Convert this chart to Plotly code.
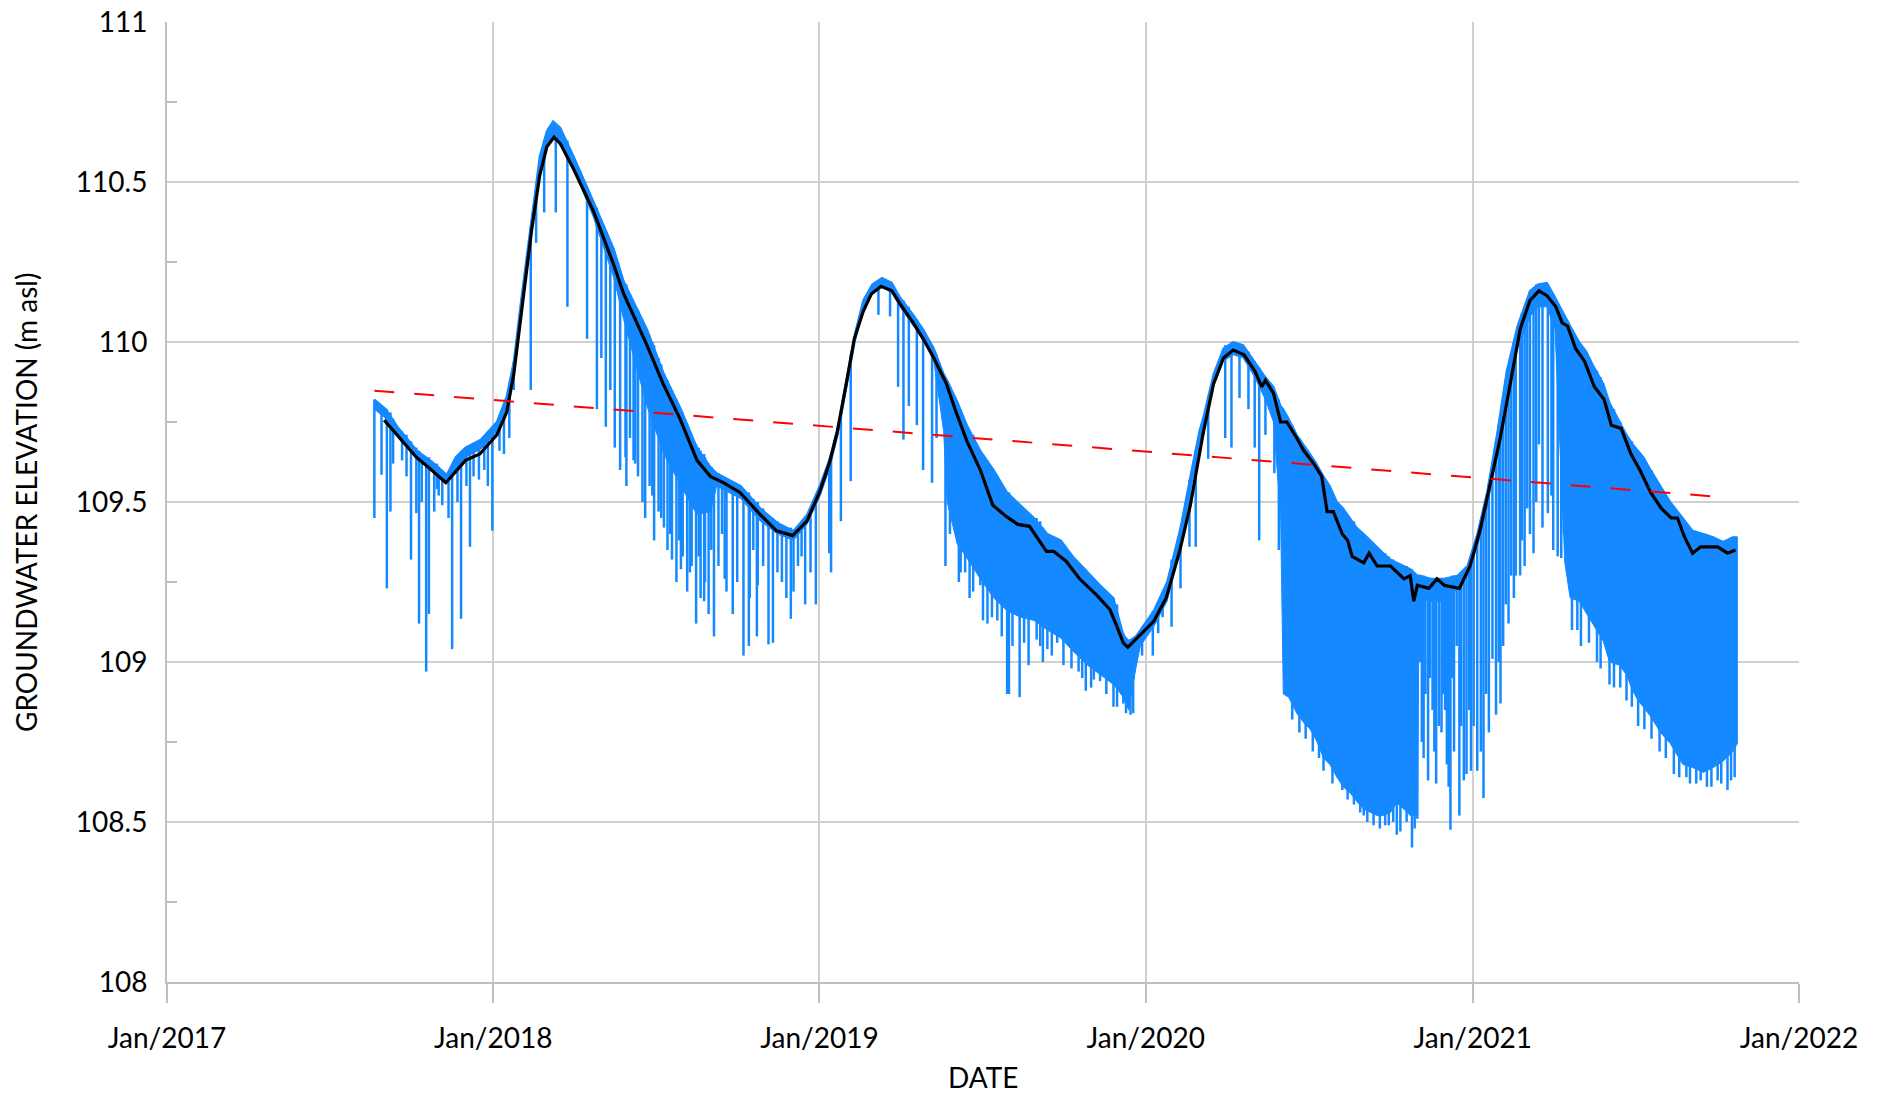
import plotly.graph_objects as go

# ---------------- data ----------------
# upper / lower edge of the continuous blue record (dense part)
band_dates = [
    "2017-08-21", "2017-09-03", "2017-09-16", "2017-10-08", "2017-10-25", "2017-11-10", "2017-11-20",
    "2017-12-01", "2017-12-18", "2018-01-05", "2018-01-16", "2018-01-24", "2018-02-02", "2018-02-13",
    "2018-02-22", "2018-03-02", "2018-03-09", "2018-03-17", "2018-04-01", "2018-04-23", "2018-05-16",
    "2018-05-27", "2018-06-22", "2018-07-11", "2018-07-30", "2018-08-17", "2018-09-01", "2018-09-08",
    "2018-10-05", "2018-10-27", "2018-11-15", "2018-12-03", "2018-12-18", "2019-01-02", "2019-01-13",
    "2019-01-22", "2019-02-01", "2019-02-10", "2019-02-19", "2019-03-01", "2019-03-12", "2019-03-23",
    "2019-04-01", "2019-04-16", "2019-04-27", "2019-05-09", "2019-05-20", "2019-05-24", "2019-06-04",
    "2019-06-15", "2019-06-30", "2019-07-15", "2019-07-30", "2019-08-14", "2019-08-29", "2019-09-13",
    "2019-09-28", "2019-10-13", "2019-10-28", "2019-11-11", "2019-11-26", "2019-12-07", "2019-12-13",
    "2019-12-21", "2019-12-26", "2020-01-10", "2020-01-25", "2020-02-09", "2020-02-20", "2020-03-01",
    "2020-03-06", "2020-03-17", "2020-03-28", "2020-04-08", "2020-04-19", "2020-05-02", "2020-05-14",
    "2020-05-23", "2020-05-31", "2020-06-03", "2020-06-09", "2020-06-18", "2020-06-26", "2020-07-03",
    "2020-07-10", "2020-07-18", "2020-07-25", "2020-08-02", "2020-08-09", "2020-08-17", "2020-08-24",
    "2020-09-01", "2020-09-08", "2020-09-16", "2020-09-23", "2020-10-01", "2020-10-08", "2020-10-16",
    "2020-10-23", "2020-10-31", "2020-11-02", "2020-11-15", "2020-11-30", "2020-12-15", "2020-12-26",
    "2021-01-06", "2021-01-17", "2021-01-28", "2021-02-08", "2021-02-20", "2021-03-06", "2021-03-15",
    "2021-03-25", "2021-04-03", "2021-04-14", "2021-04-20", "2021-04-30", "2021-05-08", "2021-05-15",
    "2021-05-27", "2021-06-03", "2021-06-14", "2021-06-22", "2021-06-29", "2021-07-05", "2021-07-11",
    "2021-07-19", "2021-07-30", "2021-08-10", "2021-08-24", "2021-09-04", "2021-09-16", "2021-09-27",
    "2021-10-08", "2021-10-19", "2021-10-24",
]
band_top = [
    109.82, 109.79, 109.735, 109.66, 109.625, 109.585, 109.64,
    109.67, 109.695, 109.75, 109.83, 109.94, 110.15, 110.38,
    110.58, 110.66, 110.69, 110.67, 110.58, 110.44, 110.29,
    110.19, 110.04, 109.90, 109.79, 109.67, 109.61, 109.59,
    109.55, 109.48, 109.435, 109.41, 109.46, 109.555, 109.64,
    109.74, 109.89, 110.03, 110.13, 110.18, 110.20, 110.185,
    110.14, 110.085, 110.04, 109.98, 109.90, 109.88, 109.815,
    109.74, 109.66, 109.60, 109.53, 109.49, 109.45, 109.40,
    109.38, 109.325, 109.28, 109.24, 109.20, 109.085, 109.065,
    109.08, 109.10, 109.16, 109.25, 109.42, 109.58, 109.72,
    109.77, 109.90, 109.98, 110.00, 109.99, 109.94, 109.89,
    109.86, 109.80, 109.79, 109.76, 109.71, 109.68, 109.65,
    109.62, 109.58, 109.55, 109.50, 109.48, 109.45, 109.42,
    109.40, 109.38, 109.36, 109.34, 109.32, 109.31, 109.30,
    109.29, 109.27, 109.27, 109.26, 109.26, 109.27, 109.30,
    109.40, 109.53, 109.71, 109.91, 110.05, 110.16, 110.18,
    110.185, 110.14, 110.08, 110.05, 110.00, 109.97, 109.93,
    109.87, 109.81, 109.75, 109.71, 109.68, 109.66, 109.64,
    109.60, 109.55, 109.50, 109.45, 109.41, 109.40, 109.39,
    109.375, 109.39, 109.39,
]
band_low = [
    109.79, 109.76, 109.71, 109.63, 109.60, 109.56, 109.60,
    109.64, 109.665, 109.72, 109.80, 109.91, 110.11, 110.34,
    110.53, 110.61, 110.64, 110.62, 110.54, 110.39, 110.20,
    110.07, 109.80, 109.65, 109.55, 109.46, 109.47, 109.55,
    109.51, 109.44, 109.40, 109.38, 109.43, 109.52, 109.61,
    109.71, 109.86, 110.00, 110.10, 110.15, 110.17, 110.155,
    110.11, 110.05, 110.01, 109.94, 109.72, 109.50, 109.37,
    109.325, 109.26, 109.20, 109.16, 109.14, 109.13, 109.10,
    109.075, 109.03, 108.99, 108.96, 108.93, 108.89, 108.85,
    108.98, 109.05, 109.11, 109.19, 109.36, 109.53, 109.68,
    109.73, 109.86, 109.94, 109.96, 109.95, 109.89, 109.82,
    109.75, 109.46, 108.90, 108.89, 108.84, 108.81, 108.79,
    108.755, 108.70, 108.68, 108.64, 108.61, 108.59, 108.565,
    108.54, 108.53, 108.52, 108.52, 108.53, 108.56, 108.54,
    108.52, 108.52, 109.20, 109.19, 109.19, 109.23, 109.27,
    109.36, 109.48, 109.65, 109.84, 109.98, 110.08, 110.11,
    110.11, 110.04, 109.31, 109.20, 109.19, 109.15, 109.12,
    109.065, 109.00, 108.99, 108.96, 108.91, 108.88, 108.86,
    108.83, 108.78, 108.745, 108.68, 108.67, 108.655, 108.67,
    108.69, 108.72, 108.745,
]

# individual drawdown spikes: date, level before the dip, lowest level of the dip
spike_dates = [
    "2017-08-21", "2017-08-29", "2017-09-04", "2017-09-08", "2017-09-21", "2017-10-01", "2017-10-07",
    "2017-10-10", "2017-10-18", "2017-10-21", "2017-10-30", "2017-11-05", "2017-11-16", "2017-11-26",
    "2017-12-06", "2017-12-16", "2017-12-22", "2017-12-31", "2018-01-13", "2018-01-24", "2018-02-12",
    "2018-02-18", "2018-02-27", "2018-03-12", "2018-03-25", "2018-04-16", "2018-04-27", "2018-05-02",
    "2018-05-07", "2018-05-12", "2018-05-17", "2018-05-23", "2018-05-30", "2018-06-03", "2018-06-07",
    "2018-06-12", "2018-06-17", "2018-06-20", "2018-06-25", "2018-06-30", "2018-07-05", "2018-07-11",
    "2018-07-15", "2018-07-20", "2018-07-25", "2018-07-30", "2018-08-01", "2018-08-06", "2018-08-11",
    "2018-08-16", "2018-08-21", "2018-08-26", "2018-08-30", "2018-09-05", "2018-09-10", "2018-09-19",
    "2018-09-26", "2018-10-01", "2018-10-08", "2018-10-15", "2018-10-23", "2018-10-30", "2018-11-05",
    "2018-11-10", "2018-11-20", "2018-11-30", "2018-12-08", "2018-12-16", "2018-12-22", "2018-12-28",
    "2019-01-12", "2019-01-14", "2019-01-25", "2019-02-05", "2019-03-08", "2019-03-21", "2019-03-30",
    "2019-04-05", "2019-04-11", "2019-04-20", "2019-04-27", "2019-05-07", "2019-05-12", "2019-05-22",
    "2019-05-27", "2019-06-08", "2019-06-13", "2019-06-22", "2019-06-30", "2019-07-13", "2019-07-19",
    "2019-08-01", "2019-08-13", "2019-08-23", "2019-09-01", "2019-09-05", "2019-09-13", "2019-09-24",
    "2019-10-05", "2019-10-18", "2019-10-26", "2019-11-04", "2019-11-11", "2019-11-26", "2019-12-07",
    "2019-12-15", "2019-12-28", "2020-01-09", "2020-01-15", "2020-01-20", "2020-01-30", "2020-02-09",
    "2020-02-19", "2020-02-26", "2020-03-11", "2020-03-30", "2020-04-06", "2020-04-15", "2020-04-25",
    "2020-05-02", "2020-05-07", "2020-05-14", "2020-05-24", "2020-05-29", "2020-06-21", "2020-07-18",
    "2020-08-08", "2020-08-21", "2020-09-01", "2020-09-25", "2020-10-08", "2020-10-25", "2020-10-31",
    "2020-11-05", "2020-11-09", "2020-11-12", "2020-11-17", "2020-11-21", "2020-11-24", "2020-11-27",
    "2020-12-01", "2020-12-05", "2020-12-07", "2020-12-11", "2020-12-14", "2020-12-17", "2020-12-22",
    "2020-12-25", "2020-12-30", "2021-01-06", "2021-01-13", "2021-01-23", "2021-01-27", "2021-02-01",
    "2021-02-07", "2021-02-13", "2021-02-18", "2021-02-23", "2021-02-25", "2021-03-03", "2021-03-10",
    "2021-03-16", "2021-03-26", "2021-04-01", "2021-04-06", "2021-04-10", "2021-04-16", "2021-04-22",
    "2021-05-02", "2021-05-20", "2021-06-08", "2021-06-28", "2021-07-12", "2021-07-29", "2021-08-14",
    "2021-08-28", "2021-09-08", "2021-09-20", "2021-10-02", "2021-10-13", "2021-10-21",
]
spike_top = [
    109.82, 109.80, 109.79, 109.78, 109.72, 109.69, 109.67,
    109.66, 109.64, 109.64, 109.62, 109.60, 109.61, 109.66,
    109.67, 109.69, 109.70, 109.73, 109.80, 109.94, 110.36,
    110.47, 110.63, 110.68, 110.63, 110.48, 110.42, 110.38,
    110.35, 110.31, 110.28, 110.22, 110.18, 110.15, 110.12,
    110.10, 110.07, 110.05, 110.02, 109.99, 109.95, 109.90,
    109.88, 109.85, 109.82, 109.79, 109.78, 109.74, 109.71,
    109.68, 109.66, 109.64, 109.62, 109.60, 109.59, 109.57,
    109.56, 109.55, 109.54, 109.52, 109.50, 109.48, 109.46,
    109.45, 109.43, 109.42, 109.42, 109.45, 109.48, 109.52,
    109.63, 109.65, 109.77, 109.96, 110.19, 110.19, 110.15,
    110.13, 110.11, 110.07, 110.04, 109.99, 109.96, 109.89,
    109.86, 109.79, 109.75, 109.71, 109.66, 109.60, 109.58,
    109.53, 109.49, 109.46, 109.45, 109.44, 109.40, 109.38,
    109.35, 109.31, 109.29, 109.26, 109.24, 109.20, 109.09,
    109.07, 109.11, 109.16, 109.19, 109.22, 109.32, 109.42,
    109.57, 109.66, 109.83, 109.99, 110.00, 109.99, 109.97,
    109.94, 109.92, 109.89, 109.85, 109.82, 109.70, 109.58,
    109.48, 109.44, 109.40, 109.34, 109.31, 109.29, 109.27,
    109.27, 109.26, 109.26, 109.26, 109.26, 109.26, 109.26,
    109.26, 109.26, 109.26, 109.27, 109.27, 109.27, 109.28,
    109.29, 109.31, 109.40, 109.48, 109.62, 109.69, 109.77,
    109.88, 109.96, 110.02, 110.07, 110.09, 110.13, 110.17,
    110.18, 110.18, 110.15, 110.12, 110.10, 110.07, 110.04,
    109.99, 109.91, 109.79, 109.69, 109.63, 109.55, 109.48,
    109.43, 109.41, 109.40, 109.38, 109.38, 109.39,
]
spike_low = [
    109.45, 109.585, 109.23, 109.47, 109.63, 109.32, 109.465,
    109.12, 108.97, 109.15, 109.54, 109.49, 109.04, 109.135,
    109.36, 109.57, 109.60, 109.41, 109.65, 109.85, 109.85,
    110.31, 110.405, 110.405, 110.11, 110.01, 109.79, 109.95,
    109.735, 109.85, 109.67, 109.60, 109.55, 109.70, 109.63,
    109.58, 109.50, 109.45, 109.55, 109.38, 109.47, 109.42,
    109.35, 109.32, 109.25, 109.29, 109.33, 109.22, 109.30,
    109.12, 109.20, 109.25, 109.15, 109.08, 109.30, 109.22,
    109.15, 109.25, 109.02, 109.20, 109.08, 109.30, 109.055,
    109.06, 109.25, 109.135, 109.30, 109.18, 109.28, 109.18,
    109.34, 109.28, 109.44, 109.565, 110.085, 110.08, 109.86,
    109.695, 109.80, 109.74, 109.60, 109.56, 109.70, 109.30,
    109.40, 109.28, 109.28, 109.22, 109.24, 109.14, 109.13,
    108.90, 108.89, 108.99, 109.07, 109.05, 109.04, 109.06,
    109.065, 108.97, 108.91, 108.945, 108.94, 108.86, 108.87,
    108.835, 109.02, 109.02, 109.09, 109.14, 109.11, 109.23,
    109.36, 109.36, 109.635, 109.70, 109.67, 109.825, 109.79,
    109.67, 109.38, 109.71, 109.59, 109.35, 108.78, 108.66,
    108.60, 108.555, 108.52, 108.49, 108.46, 108.42, 108.51,
    108.75, 108.90, 108.63, 108.85, 108.62, 108.80, 108.78,
    108.85, 108.61, 108.476, 108.72, 109.05, 108.52, 108.63,
    108.65, 108.66, 108.66, 108.575, 109.01, 108.835, 108.87,
    109.18, 109.27, 109.27, 109.27, 109.38, 109.48, 109.34,
    109.68, 109.465, 109.35, 109.33, 109.325, 109.30, 109.10,
    109.05, 109.00, 108.92, 108.86, 108.79, 108.72, 108.65,
    108.64, 108.62, 108.61, 108.63, 108.60, 108.64,
]

# smaller dips that roughen the lower edge of the record
minor_dates = [
    "2017-09-11", "2017-09-26", "2017-10-13", "2017-10-27", "2017-11-01", "2017-11-12", "2017-11-22",
    "2017-12-02", "2017-12-10", "2017-12-26", "2018-01-08", "2018-01-19", "2018-05-29", "2018-06-09",
    "2018-06-28", "2018-07-08", "2018-07-18", "2018-07-28", "2018-08-09", "2018-08-19", "2018-08-25",
    "2018-09-02", "2018-09-14", "2018-09-17", "2018-10-14", "2018-10-19", "2018-10-24", "2018-11-15",
    "2018-11-25", "2018-12-03", "2018-12-12", "2019-06-06", "2019-06-18", "2019-07-03", "2019-07-08",
    "2019-07-24", "2019-07-30", "2019-08-05", "2019-08-18", "2019-09-08", "2019-09-18", "2019-10-01",
    "2019-10-10", "2019-10-22", "2019-11-01", "2019-11-18", "2019-11-30", "2019-12-10", "2019-12-18",
    "2020-06-13", "2020-06-28", "2020-07-06", "2020-07-13", "2020-07-28", "2020-08-14", "2020-08-28",
    "2020-09-05", "2020-09-12", "2020-09-19", "2020-09-29", "2020-10-04", "2020-10-12", "2020-10-19",
    "2020-10-28", "2020-11-03", "2020-11-07", "2020-11-14", "2020-11-19", "2020-11-29", "2020-12-03",
    "2020-12-09", "2020-12-19", "2020-12-28", "2021-01-02", "2021-01-10", "2021-01-16", "2021-01-19",
    "2021-01-30", "2021-02-04", "2021-02-10", "2021-02-16", "2021-02-28", "2021-03-06", "2021-03-13",
    "2021-03-20", "2021-03-30", "2021-04-13", "2021-04-28", "2021-05-11", "2021-05-24", "2021-06-03",
    "2021-06-15", "2021-06-22", "2021-07-05", "2021-07-20", "2021-08-05", "2021-08-20", "2021-09-01",
    "2021-09-13", "2021-09-25", "2021-10-06", "2021-10-17",
]
minor_top = [
    109.76, 109.71, 109.65, 109.62, 109.61, 109.59, 109.64,
    109.67, 109.68, 109.71, 109.77, 109.87, 110.17, 110.11,
    110.00, 109.93, 109.86, 109.80, 109.72, 109.67, 109.65,
    109.61, 109.58, 109.57, 109.53, 109.51, 109.50, 109.44,
    109.42, 109.41, 109.43, 109.78, 109.72, 109.65, 109.63,
    109.55, 109.53, 109.51, 109.48, 109.42, 109.39, 109.36,
    109.33, 109.30, 109.27, 109.22, 109.18, 109.07, 109.07,
    109.74, 109.67, 109.63, 109.60, 109.52, 109.46, 109.41,
    109.39, 109.37, 109.35, 109.33, 109.32, 109.30, 109.30,
    109.28, 109.27, 109.27, 109.26, 109.26, 109.26, 109.26,
    109.27, 109.27, 109.30, 109.34, 109.44, 109.52, 109.56,
    109.74, 109.82, 109.92, 110.00, 110.11, 110.16, 110.18,
    110.18, 110.16, 110.08, 110.00, 109.95, 109.89, 109.81,
    109.75, 109.71, 109.66, 109.60, 109.52, 109.46, 109.42,
    109.40, 109.39, 109.38, 109.39,
]
minor_low = [
    109.62, 109.58, 109.50, 109.47, 109.52, 109.45, 109.50,
    109.55, 109.58, 109.55, 109.66, 109.70, 109.64, 109.62,
    109.52, 109.45, 109.40, 109.38, 109.28, 109.33, 109.19,
    109.35, 109.40, 109.26, 109.05, 109.35, 109.24, 109.28,
    109.20, 109.22, 109.33, 109.25, 109.20, 109.13, 109.12,
    109.08, 108.90, 109.05, 109.06, 109.00, 109.02, 108.99,
    108.98, 108.95, 108.92, 108.90, 108.86, 108.84, 108.84,
    108.82, 108.76, 108.72, 108.70, 108.62, 108.57, 108.53,
    108.50, 108.49, 108.48, 108.49, 108.50, 108.47, 108.50,
    108.48, 109.00, 108.70, 108.95, 108.72, 108.90, 108.68,
    108.95, 108.80, 108.85, 108.80, 108.72, 108.90, 108.78,
    109.00, 109.05, 109.12, 109.20, 109.30, 109.40, 109.50,
    109.42, 109.52, 109.40, 109.10, 109.06, 108.98, 108.93,
    108.92, 108.88, 108.80, 108.76, 108.70, 108.64, 108.62,
    108.63, 108.61, 108.62, 108.63,
]

# smoothed (black) series
smooth_dates = [
    "2017-09-01", "2017-09-15", "2017-10-07", "2017-10-24", "2017-11-09", "2017-12-01", "2017-12-17",
    "2018-01-05", "2018-01-16", "2018-01-24", "2018-02-02", "2018-02-13", "2018-02-22", "2018-03-02",
    "2018-03-10", "2018-03-17", "2018-04-01", "2018-04-23", "2018-05-16", "2018-05-27", "2018-06-22",
    "2018-07-10", "2018-07-29", "2018-08-17", "2018-09-01", "2018-09-16", "2018-10-04", "2018-10-27",
    "2018-11-14", "2018-12-02", "2018-12-18", "2019-01-01", "2019-01-12", "2019-01-21", "2019-01-31",
    "2019-02-09", "2019-02-19", "2019-02-28", "2019-03-11", "2019-03-23", "2019-04-01", "2019-04-16",
    "2019-04-27", "2019-05-09", "2019-05-23", "2019-06-03", "2019-06-15", "2019-06-30", "2019-07-14",
    "2019-07-29", "2019-08-11", "2019-08-24", "2019-09-12", "2019-09-20", "2019-10-04", "2019-10-19",
    "2019-11-07", "2019-11-22", "2019-11-29", "2019-12-07", "2019-12-12", "2019-12-26", "2020-01-10",
    "2020-01-24", "2020-02-08", "2020-02-20", "2020-03-05", "2020-03-17", "2020-03-28", "2020-04-08",
    "2020-04-20", "2020-05-02", "2020-05-10", "2020-05-14", "2020-05-23", "2020-05-31", "2020-06-07",
    "2020-06-18", "2020-06-26", "2020-07-07", "2020-07-16", "2020-07-22", "2020-07-29", "2020-08-08",
    "2020-08-14", "2020-08-19", "2020-09-01", "2020-09-07", "2020-09-16", "2020-10-01", "2020-10-16",
    "2020-10-23", "2020-10-27", "2020-10-31", "2020-11-13", "2020-11-22", "2020-11-30", "2020-12-17",
    "2020-12-22", "2020-12-29", "2021-01-09", "2021-01-20", "2021-01-31", "2021-02-12", "2021-02-23",
    "2021-03-06", "2021-03-16", "2021-03-25", "2021-04-04", "2021-04-11", "2021-04-17", "2021-04-26",
    "2021-05-06", "2021-05-17", "2021-05-28", "2021-06-05", "2021-06-16", "2021-06-27", "2021-07-07",
    "2021-07-19", "2021-07-31", "2021-08-11", "2021-08-18", "2021-08-26", "2021-09-04", "2021-09-13",
    "2021-09-22", "2021-10-02", "2021-10-13", "2021-10-22",
]
smooth_values = [
    109.756, 109.71, 109.64, 109.60, 109.56, 109.63, 109.65,
    109.71, 109.78, 109.90, 110.105, 110.35, 110.52, 110.61,
    110.64, 110.62, 110.54, 110.41, 110.24, 110.15, 109.99,
    109.87, 109.76, 109.63, 109.58, 109.56, 109.53, 109.46,
    109.41, 109.395, 109.44, 109.53, 109.62, 109.72, 109.87,
    110.01, 110.096, 110.15, 110.174, 110.16, 110.12, 110.06,
    110.01, 109.95, 109.87, 109.78, 109.69, 109.60, 109.49,
    109.455, 109.43, 109.424, 109.346, 109.346, 109.315, 109.26,
    109.21, 109.164, 109.117, 109.06, 109.046, 109.085, 109.127,
    109.20, 109.346, 109.49, 109.71, 109.87, 109.95, 109.975,
    109.96, 109.91, 109.86, 109.88, 109.84, 109.75, 109.75,
    109.70, 109.66, 109.62, 109.58, 109.47, 109.47, 109.40,
    109.38, 109.33, 109.31, 109.34, 109.30, 109.30, 109.26,
    109.27, 109.19, 109.24, 109.23, 109.26, 109.24, 109.23,
    109.26, 109.30, 109.41, 109.55, 109.69, 109.87, 110.04,
    110.13, 110.16, 110.145, 110.11, 110.06, 110.05, 109.98,
    109.94, 109.86, 109.82, 109.74, 109.73, 109.65, 109.60,
    109.53, 109.48, 109.45, 109.45, 109.39, 109.34, 109.36,
    109.36, 109.36, 109.34, 109.35,
]

# linear trend (red dashed)
trend_dates = ["2017-08-21", "2021-10-08"]
trend_values = [109.848, 109.515]

# axis settings
x_range = ["2017-01-01", "2022-01-01"]
y_range = [108, 111]

# ---------------- figure ----------------
BLUE = "#1589FF"
GRID = "#D0D0D0"
AXIS = "#BFBFBF"
FONT = "Lato, 'Open Sans', sans-serif"

fig = go.Figure()

# dense band (filled polygon between the upper and lower edges)
fig.add_trace(go.Scatter(
    x=band_dates + band_dates[::-1],
    y=band_top + band_low[::-1],
    mode="lines", fill="toself", fillcolor=BLUE,
    line=dict(color=BLUE, width=1),
    hoverinfo="skip", showlegend=False,
))


def segments(dates, tops, lows):
    xs, ys = [], []
    for d, t, lo in zip(dates, tops, lows):
        xs += [d, d, None]
        ys += [t, lo, None]
    return xs, ys


sx, sy = segments(spike_dates, spike_top, spike_low)
mx, my = segments(minor_dates, minor_top, minor_low)
fig.add_trace(go.Scatter(
    x=sx + mx, y=sy + my, mode="lines", connectgaps=False,
    line=dict(color=BLUE, width=2.5), hoverinfo="skip", showlegend=False,
))

# upper edge outline
fig.add_trace(go.Scatter(
    x=band_dates, y=band_top, mode="lines",
    line=dict(color=BLUE, width=2), showlegend=False,
))

# smoothed
fig.add_trace(go.Scatter(
    x=smooth_dates, y=smooth_values, mode="lines",
    line=dict(color="black", width=3.2), showlegend=False,
))

# trend
fig.add_trace(go.Scatter(
    x=trend_dates, y=trend_values, mode="lines",
    line=dict(color="#FF0000", width=2, dash="20px,20px"), showlegend=False,
))

fig.update_layout(
    width=1881, height=1094,
    paper_bgcolor="white", plot_bgcolor="white",
    margin=dict(l=167, r=82, t=22, b=112, autoexpand=False),
    font=dict(family=FONT, size=28, color="black"),
    showlegend=False,
)

fig.update_xaxes(
    type="date", range=x_range, dtick="M12", tick0="2017-01-01",
    tickformat="%b/%Y",
    showgrid=True, gridcolor=GRID, gridwidth=2,
    showline=True, linecolor=AXIS, linewidth=2,
    ticks="outside", ticklen=19, tickwidth=2, tickcolor=AXIS,
    ticklabelstandoff=11,
    tickfont=dict(family=FONT, size=28, color="black"),
    zeroline=False,
)
fig.update_yaxes(
    range=y_range, dtick=0.5, tick0=108,
    showgrid=True, gridcolor=GRID, gridwidth=2,
    showline=True, linecolor=AXIS, linewidth=2,
    ticks="", ticklabelstandoff=12,
    minor=dict(dtick=0.25, tick0=108, ticks="inside", ticklen=10, tickwidth=2,
               tickcolor=AXIS, showgrid=False),
    tickfont=dict(family=FONT, size=28, color="black"),
    zeroline=False,
)

fig.add_annotation(
    text="GROUNDWATER ELEVATION (m asl)", textangle=-90,
    xref="paper", yref="paper", x=-0.0864, y=0.5,
    xanchor="center", yanchor="middle", showarrow=False,
    font=dict(family=FONT, size=28, color="black"),
)
fig.add_annotation(
    text="DATE",
    xref="paper", yref="paper", x=0.5, y=-0.0985,
    xanchor="center", yanchor="middle", showarrow=False,
    font=dict(family=FONT, size=28, color="black"),
)

fig.write_html(
    "out.html",
    config={"displayModeBar": False},
    post_script="document.body.style.margin='0';document.body.style.overflow='hidden';",
)
